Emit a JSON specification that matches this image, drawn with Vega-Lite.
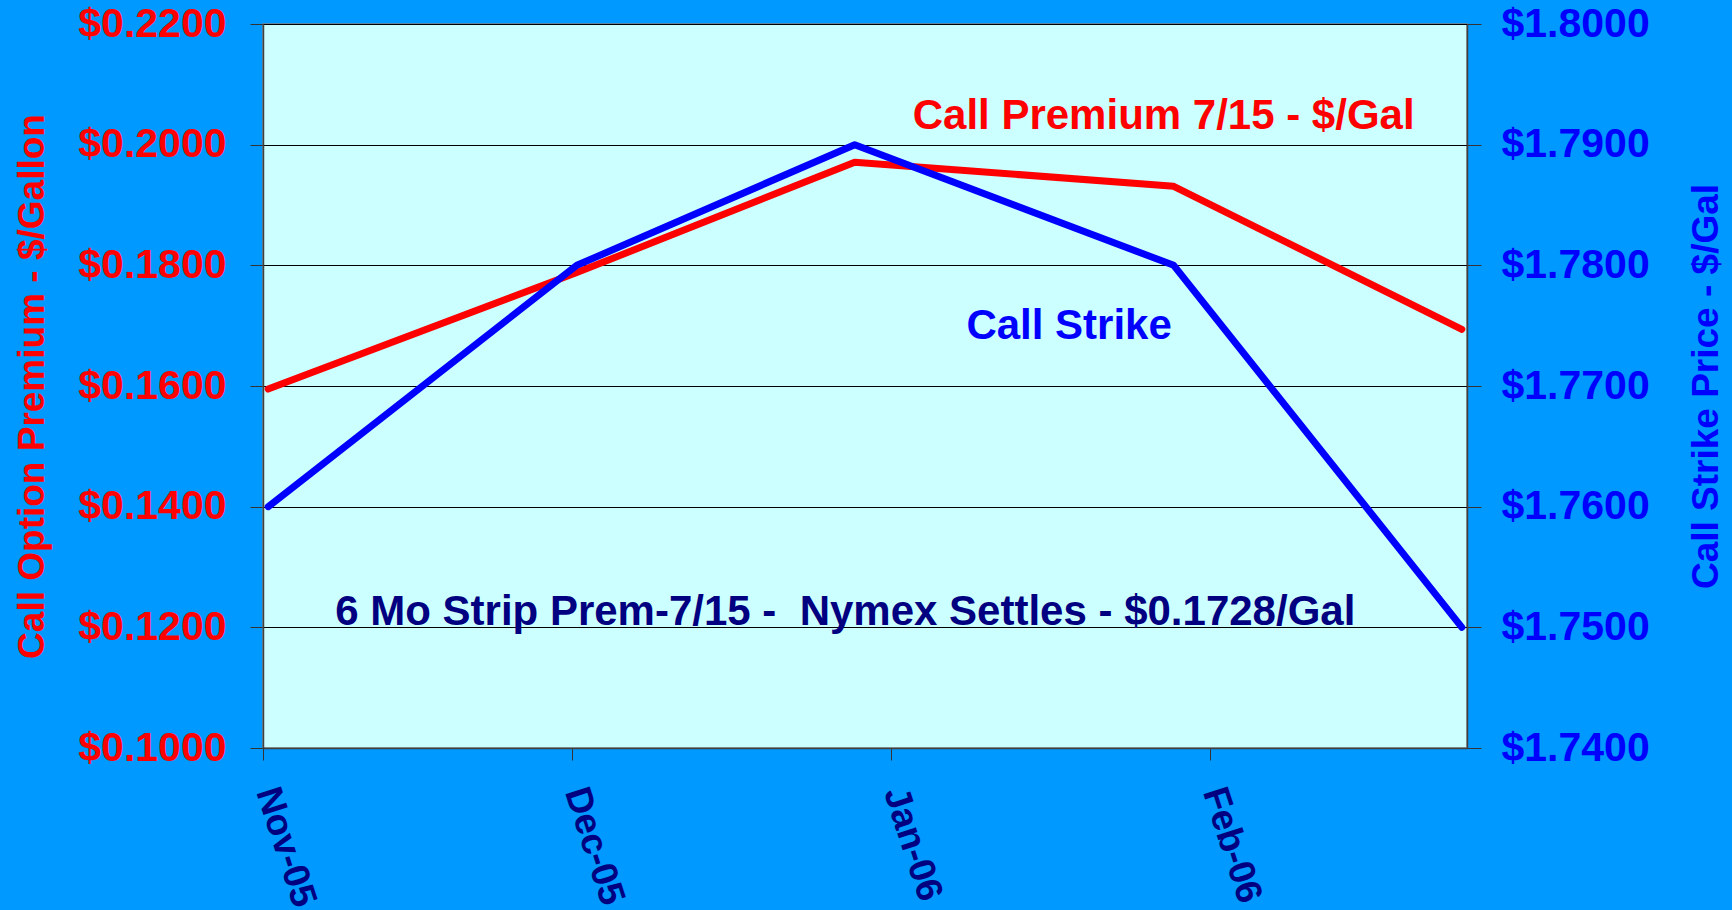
{
  "$schema": "https://vega.github.io/schema/vega-lite/v6.json",
  "width": 1204,
  "height": 724,
  "autosize": {"type": "none"},
  "padding": {"left": 263, "top": 24, "right": 265, "bottom": 162},
  "background": "#0099FF",
  "config": {
    "view": {"fill": "#CCFFFF", "stroke": "#808080", "strokeWidth": 1.5},
    "font": "Liberation Sans"
  },
  "datasets": {
    "series": [
      {"date": "2005-11-01T12:00:00", "premium": 0.1595, "strike": 1.76},
      {"date": "2005-12-01T12:00:00", "premium": 0.1788, "strike": 1.78},
      {"date": "2005-12-28T12:00:00", "premium": 0.1971, "strike": 1.79},
      {"date": "2006-01-28T12:00:00", "premium": 0.1931, "strike": 1.78},
      {"date": "2006-02-25T12:00:00", "premium": 0.1694, "strike": 1.75}
    ],
    "notes": [
      {"date": "2006-01-27T12:30:00", "value": 0.20255, "kind": "premium", "label": "Call Premium 7/15 - $/Gal"},
      {"date": "2006-01-18T08:00:00", "value": 0.16779, "kind": "strike", "label": "Call Strike"},
      {"date": "2005-12-27T14:00:00", "value": 0.12038, "kind": "strip", "label": "6 Mo Strip Prem-7/15 -\u00a0 Nymex Settles - $0.1728/Gal"}
    ]
  },
  "encoding": {
    "x": {
      "field": "date",
      "type": "temporal",
      "scale": {
        "domain": [
          {"year": 2005, "month": "Nov", "date": 1},
          {"year": 2006, "month": "Feb", "date": 26}
        ],
        "nice": false
      },
      "axis": {
        "title": null,
        "values": [
          {"year": 2005, "month": "Nov", "date": 1},
          {"year": 2005, "month": "Dec", "date": 1},
          {"year": 2006, "month": "Jan", "date": 1},
          {"year": 2006, "month": "Feb", "date": 1}
        ],
        "format": "%b-%y",
        "labelAngle": 72,
        "labelAlign": "left",
        "labelBaseline": "middle",
        "labelFontSize": 37,
        "labelFontWeight": "bold",
        "labelColor": "#000080",
        "labelPadding": 28,
        "labelOffset": 3,
        "labelFlush": false,
        "labelOverlap": false,
        "tickSize": 12,
        "tickColor": "#333333",
        "domainColor": "#404040",
        "domainWidth": 1.5,
        "grid": false
      }
    }
  },
  "layer": [
    {
      "data": {"name": "series"},
      "mark": {"type": "line", "color": "#FF0000", "strokeWidth": 7, "strokeCap": "round", "strokeJoin": "round"},
      "encoding": {
        "y": {
          "field": "premium",
          "type": "quantitative",
          "scale": {"domain": [0.1, 0.22], "nice": false, "zero": false},
          "axis": {
            "orient": "left",
            "values": [0.1, 0.12, 0.14, 0.16, 0.18, 0.2, 0.22],
            "format": "$.4f",
            "title": "Call Option Premium - $/Gallon",
            "titleColor": "#FF0000",
            "titleFontSize": 37,
            "titleFontWeight": "bold",
            "titleAngle": 270,
            "titleX": -220,
            "titleY": 362,
            "titleAlign": "center",
            "titleBaseline": "alphabetic",
            "labelColor": "#FF0000",
            "labelFontSize": 41,
            "labelFontWeight": "bold",
            "labelPadding": 24,
            "labelOverlap": false,
            "labelFlush": false,
            "tickSize": 13,
            "tickColor": "#333333",
            "grid": true,
            "gridColor": "#000000",
            "gridWidth": 1,
            "domainColor": "#404040",
            "domainWidth": 1.5
          }
        }
      }
    },
    {
      "data": {"name": "series"},
      "mark": {"type": "line", "color": "#0000FF", "strokeWidth": 7, "strokeCap": "round", "strokeJoin": "round"},
      "encoding": {
        "y": {
          "field": "strike",
          "type": "quantitative",
          "scale": {"domain": [1.74, 1.8], "nice": false, "zero": false},
          "axis": {
            "orient": "right",
            "values": [1.74, 1.75, 1.76, 1.77, 1.78, 1.79, 1.8],
            "format": "$.4f",
            "title": "Call Strike Price - $/Gal",
            "titleColor": "#0000FF",
            "titleFontSize": 37,
            "titleFontWeight": "bold",
            "titleAngle": 270,
            "titleX": 250,
            "titleY": 362,
            "titleAlign": "center",
            "titleBaseline": "alphabetic",
            "labelColor": "#0000FF",
            "labelFontSize": 41,
            "labelFontWeight": "bold",
            "labelPadding": 20,
            "labelOverlap": false,
            "labelFlush": false,
            "tickSize": 14,
            "tickColor": "#333333",
            "grid": false,
            "domainColor": "#404040",
            "domainWidth": 1.5
          }
        }
      }
    },
    {
      "data": {"name": "notes"},
      "mark": {"type": "text", "fontSize": 42, "fontWeight": "bold", "align": "center", "baseline": "alphabetic"},
      "encoding": {
        "y": {
          "field": "value",
          "type": "quantitative",
          "scale": {"domain": [0.1, 0.22], "nice": false, "zero": false},
          "axis": null
        },
        "text": {"field": "label"},
        "color": {
          "field": "kind",
          "type": "nominal",
          "scale": {"domain": ["premium", "strike", "strip"], "range": ["#FF0000", "#0000FF", "#000080"]},
          "legend": null
        }
      }
    }
  ],
  "resolve": {"scale": {"y": "independent"}}
}
